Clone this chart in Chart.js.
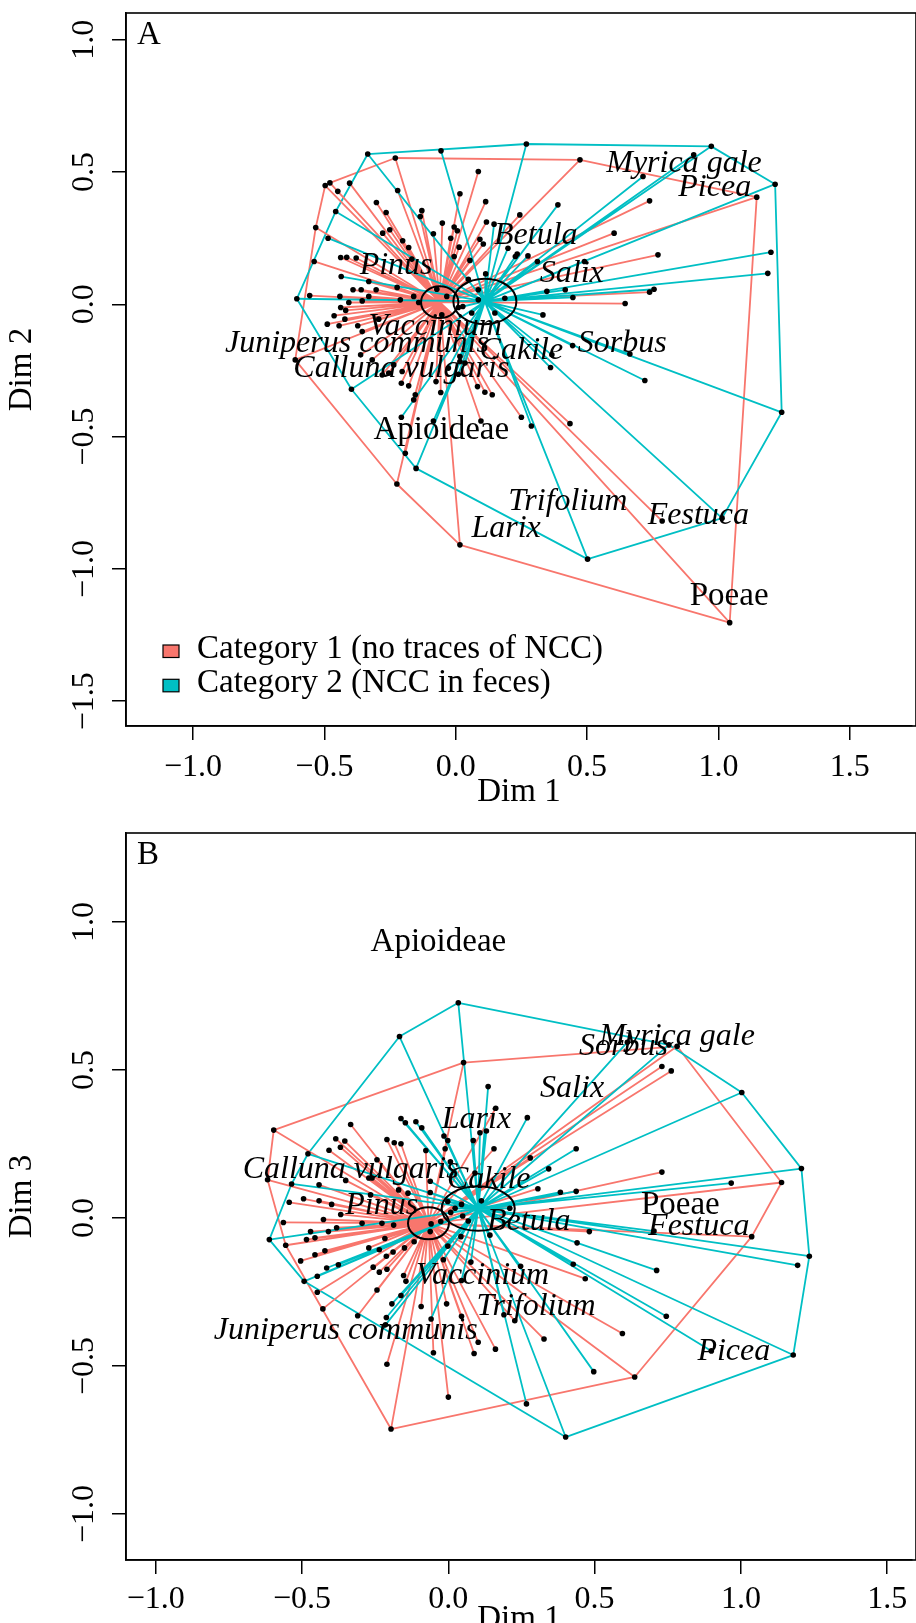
<!DOCTYPE html>
<html><head><meta charset="utf-8">
<script src="https://cdn.jsdelivr.net/npm/chart.js@4.4.1/dist/chart.umd.min.js"></script>
<style>
html,body{margin:0;padding:0;background:#fff;overflow:hidden;width:916px;height:1623px}
canvas{position:absolute;left:0}
#ca{top:0}
#cb{top:811px}
</style></head><body>
<canvas id="ca" width="916" height="811"></canvas>
<canvas id="cb" width="916" height="830"></canvas>
<script>
// ---------------- DATA ----------------
const categoryNames = ['Category 1 (no traces of NCC)', 'Category 2 (NCC in feces)'];
const categoryColors = ['#F8766D', '#00BFC4'];
const xTicks = [-1.0, -0.5, 0.0, 0.5, 1.0, 1.5];
const yTicksA = [-1.5, -1.0, -0.5, 0.0, 0.5, 1.0];
const yTicksB = [-1.0, -0.5, 0.0, 0.5, 1.0];

// Panel A (Dim 1 vs Dim 2)
const A_cat1 = [[-0.230,0.553],[0.086,0.502],[-0.497,0.449],[-0.479,0.459],[-0.404,0.458],[-0.449,0.427],[-0.221,0.430],[0.016,0.418],[0.114,0.388],[-0.302,0.385],[-0.129,0.354],[-0.135,0.332],[-0.265,0.347],[0.244,0.338],[-0.533,0.290],[-0.051,0.307],[-0.006,0.292],[0.006,0.278],[-0.278,0.269],[-0.251,0.282],[-0.085,0.267],[-0.019,0.250],[0.117,0.311],[0.092,0.246],[0.105,0.228],[0.013,0.216],[-0.202,0.240],[-0.179,0.215],[0.054,0.166],[-0.539,0.162],[-0.438,0.177],[-0.415,0.178],[-0.379,0.175],[-0.167,0.171],[-0.006,0.181],[0.048,0.095],[-0.331,0.086],[-0.223,0.064],[-0.303,0.055],[-0.391,0.055],[-0.360,0.055],[-0.441,0.030],[-0.331,0.030],[-0.356,0.013],[-0.160,0.030],[-0.141,0.007],[-0.556,0.033],[-0.407,0.007],[-0.211,0.017],[-0.419,-0.023],[-0.463,-0.043],[-0.489,-0.075],[-0.444,-0.081],[-0.422,-0.056],[-0.373,-0.081],[-0.293,-0.056],[-0.053,-0.040],[-0.072,0.057],[-0.034,0.030],[-0.438,-0.012],[-0.356,-0.103],[0.473,0.546],[1.146,0.405],[0.738,0.391],[0.603,0.269],[0.770,0.187],[0.738,0.046],[0.645,0.003],[0.435,-0.451],[0.786,-0.819],[1.043,-1.203],[-0.611,-0.210],[0.096,-0.441],[-0.192,-0.563],[-0.224,-0.679],[0.016,-0.909],[0.250,-0.427],[0.083,-0.311],[0.111,-0.332],[0.139,-0.342],[-0.057,-0.333],[-0.154,-0.342],[-0.160,-0.361],[-0.207,-0.298],[-0.179,-0.308],[-0.075,-0.292],[-0.318,-0.210],[-0.280,-0.267],[-0.255,-0.260],[-0.236,-0.229],[-0.204,-0.254],[-0.362,-0.191]];
const A_cat2 = [[-0.335,0.568],[-0.056,0.580],[0.269,0.606],[-0.457,0.351],[0.389,0.376],[-0.486,0.250],[0.146,0.303],[0.199,0.212],[0.234,0.190],[0.227,0.181],[0.275,0.183],[0.311,0.162],[0.114,0.115],[-0.436,0.105],[-0.605,0.021],[0.347,0.049],[0.417,0.055],[0.446,0.026],[0.010,-0.012],[0.061,-0.033],[0.149,-0.033],[0.332,-0.040],[0.086,0.017],[0.086,0.055],[0.187,0.023],[0.027,-0.008],[0.973,0.597],[0.906,0.565],[0.713,0.483],[1.216,0.454],[1.200,0.197],[1.188,0.117],[0.490,0.162],[0.755,0.057],[0.445,-0.156],[0.663,-0.188],[0.720,-0.288],[1.241,-0.408],[1.014,-0.808],[0.502,-0.963],[-0.397,-0.321],[-0.207,-0.427],[-0.085,-0.441],[-0.151,-0.620],[0.288,-0.460],[0.361,-0.239],[0.016,-0.197],[0.016,-0.216],[0.035,-0.222],[0.010,-0.264],[-0.028,-0.241],[0.366,-0.191]];
const A_centroids = [[-0.061,0.008],[0.111,0.011]];
const A_ellipses = [[-0.061,0.008,0.071,0.060],[0.111,0.011,0.120,0.086]]; // cx, cy, rx, ry
const A_labelText = ['Myrica gale','Picea','Betula','Pinus','Salix','Vaccinium','Juniperus communis','Cakile','Sorbus','Calluna vulgaris','Apioideae','Trifolium','Festuca','Larix','Poeae'];
const A_labelX = [0.869,0.986,0.305,-0.227,0.442,-0.078,-0.376,0.250,0.634,-0.207,-0.055,0.427,0.924,0.192,1.041];
const A_labelY = [0.532,0.442,0.258,0.145,0.117,-0.086,-0.149,-0.176,-0.149,-0.243,-0.477,-0.744,-0.798,-0.849,-1.104];
const A_labelItalic = [1,1,1,1,1,1,1,1,1,1,0,1,1,1,0];

// Panel B (Dim 1 vs Dim 3)
const B_cat1 = [[0.052,0.525],[-0.597,0.297],[0.162,0.371],[-0.334,0.316],[-0.002,0.262],[0.156,0.234],[-0.385,0.268],[-0.354,0.260],[-0.369,0.239],[-0.408,0.229],[-0.210,0.265],[-0.185,0.254],[-0.162,0.251],[-0.077,0.228],[-0.011,0.234],[-0.244,0.197],[-0.618,0.129],[-0.351,0.127],[-0.261,0.135],[-0.442,0.112],[0.782,0.580],[0.730,0.512],[0.762,0.497],[0.280,0.203],[0.730,0.155],[1.139,0.120],[0.306,0.099],[0.482,-0.046],[1.037,-0.063],[0.468,-0.205],[0.595,-0.390],[0.327,-0.409],[0.637,-0.537],[-0.556,-0.092],[-0.564,-0.015],[-0.544,0.053],[-0.495,0.065],[-0.442,0.058],[-0.399,0.046],[-0.368,0.012],[-0.427,-0.005],[-0.471,-0.046],[-0.485,-0.073],[-0.456,-0.067],[-0.410,-0.046],[-0.382,-0.033],[-0.505,-0.145],[-0.456,-0.124],[-0.422,-0.111],[-0.448,-0.251],[-0.429,-0.307],[-0.310,-0.330],[-0.257,-0.166],[-0.236,-0.183],[-0.210,-0.173],[-0.272,-0.101],[-0.236,-0.107],[-0.212,-0.129],[-0.189,-0.115],[-0.150,-0.101],[-0.217,-0.069],[-0.295,-0.018],[-0.227,-0.018],[-0.187,-0.024],[-0.244,-0.243],[-0.153,-0.194],[-0.145,-0.214],[-0.210,-0.494],[-0.196,-0.713],[-0.093,-0.299],[-0.051,-0.455],[0.000,-0.605],[-0.006,-0.290],[0.045,-0.332],[0.088,-0.458],[0.102,-0.420],[0.161,-0.443],[0.227,-0.347],[-0.117,-0.080],[-0.062,-0.046],[-0.059,-0.020],[-0.026,-0.012],[-0.170,0.095],[-0.266,0.078],[-0.272,0.135]];
const B_cat2 = [[0.034,0.727],[-0.167,0.613],[0.136,0.444],[0.270,0.339],[-0.162,0.336],[-0.147,0.322],[-0.111,0.325],[-0.091,0.305],[-0.015,0.277],[0.085,0.262],[0.108,0.288],[0.130,0.294],[-0.480,0.217],[0.007,0.190],[-0.536,0.115],[-0.062,0.124],[0.091,0.152],[0.754,0.585],[0.612,0.594],[1.003,0.424],[0.437,0.234],[0.343,0.166],[1.207,0.167],[0.967,0.118],[0.383,0.087],[0.437,0.090],[0.703,-0.044],[0.440,-0.084],[1.234,-0.129],[1.194,-0.160],[0.712,-0.177],[0.427,-0.156],[0.247,-0.163],[0.745,-0.332],[0.497,-0.519],[1.179,-0.463],[0.899,-0.449],[0.267,-0.628],[0.401,-0.740],[-0.612,-0.073],[-0.416,-0.169],[-0.376,-0.158],[-0.448,-0.197],[-0.493,-0.214],[-0.162,-0.262],[-0.193,-0.290],[-0.212,-0.336],[-0.215,-0.361],[-0.059,-0.341],[0.190,-0.327],[0.077,-0.149],[0.045,-0.211],[-0.017,-0.141],[-0.002,-0.095],[0.043,-0.063],[0.142,-0.058],[0.113,0.058],[0.210,0.033],[-0.062,0.086],[-0.138,0.084],[-0.002,0.056],[0.023,0.033],[0.045,0.046],[0.068,-0.010],[0.008,0.019],[0.049,0.007]];
const B_centroids = [[-0.068,-0.018],[0.102,0.032]];
const B_ellipses = [[-0.068,-0.018,0.070,0.054],[0.102,0.032,0.125,0.075]];
const B_labelText = ['Apioideae','Myrica gale','Sorbus','Salix','Larix','Calluna vulgaris','Cakile','Poeae','Festuca','Pinus','Betula','Vaccinium','Trifolium','Juniperus communis','Picea'];
const B_labelX = [-0.034,0.782,0.599,0.423,0.096,-0.334,0.138,0.793,0.856,-0.228,0.275,0.117,0.300,-0.351,0.976];
const B_labelY = [0.932,0.612,0.580,0.436,0.334,0.165,0.129,0.042,-0.029,0.042,-0.011,-0.194,-0.300,-0.381,-0.451];
const B_labelItalic = [0,1,1,1,1,1,1,0,1,1,1,1,1,1,1];

// ---------------- HELPERS ----------------
const FONT = '"Liberation Serif", "Times New Roman", serif';
function convexHull(pts) {
  const p = pts.map(a => a.slice()).sort((a, b) => a[0] - b[0] || a[1] - b[1]);
  const cross = (o, a, b) => (a[0]-o[0])*(b[1]-o[1]) - (a[1]-o[1])*(b[0]-o[0]);
  const lower = [], upper = [];
  for (const q of p) { while (lower.length >= 2 && cross(lower[lower.length-2], lower[lower.length-1], q) <= 0) lower.pop(); lower.push(q); }
  for (let i = p.length - 1; i >= 0; i--) { const q = p[i]; while (upper.length >= 2 && cross(upper[upper.length-2], upper[upper.length-1], q) <= 0) upper.pop(); upper.push(q); }
  upper.pop(); lower.pop();
  const h = lower.concat(upper); h.push(h[0]);
  return h.map(a => ({x: a[0], y: a[1]}));
}
function spider(c, pts) {
  const out = [];
  for (const q of pts) { out.push({x: c[0], y: c[1]}, {x: q[0], y: q[1]}, {x: null, y: null}); }
  return out;
}
const fmt = v => (v < 0 ? '\u2212' : '') + Math.abs(v).toFixed(1);

const decor = {
  id: 'decor',
  afterDatasetsDraw(chart, args, o) {
    const ctx = chart.ctx, xs = chart.scales.x, ys = chart.scales.y, ca = chart.chartArea;
    ctx.save();
    ctx.beginPath(); ctx.rect(ca.left, ca.top, ca.right - ca.left, ca.bottom - ca.top); ctx.clip();
    // ellipses
    ctx.strokeStyle = '#000'; ctx.lineWidth = 2;
    for (const e of o.ellipses) {
      const cx = xs.getPixelForValue(e[0]), cy = ys.getPixelForValue(e[1]);
      const rx = Math.abs(xs.getPixelForValue(e[0] + e[2]) - cx), ry = Math.abs(ys.getPixelForValue(e[1] + e[3]) - cy);
      ctx.beginPath(); ctx.ellipse(cx, cy, rx, ry, 0, 0, Math.PI * 2); ctx.stroke();
    }
    // labels
    ctx.fillStyle = '#000'; ctx.textAlign = 'center'; ctx.textBaseline = 'middle';
    o.labels.text.forEach((t, i) => {
      ctx.font = o.labels.italic[i] ? 'italic 32px ' + FONT : '33px ' + FONT;
      ctx.fillText(t, xs.getPixelForValue(o.labels.x[i]), ys.getPixelForValue(o.labels.y[i]));
    });
    ctx.restore();
    ctx.save();
    // box
    ctx.strokeStyle = '#000'; ctx.lineWidth = 1.6;
    ctx.strokeRect(ca.left, ca.top, ca.right - ca.left + 4, ca.bottom - ca.top);
    // panel letter
    ctx.fillStyle = '#000'; ctx.font = '33px ' + FONT; ctx.textAlign = 'left'; ctx.textBaseline = 'middle';
    ctx.fillText(o.letter, ca.left + 11, ca.top + 22);
    // y tick labels (rotated as in R)
    ctx.font = '32px ' + FONT; ctx.textAlign = 'center'; ctx.textBaseline = 'middle';
    for (const t of ys.ticks) {
      const y = ys.getPixelForValue(t.value);
      ctx.save(); ctx.translate(85, y); ctx.rotate(-Math.PI / 2); ctx.fillText(fmt(t.value), 0, 0); ctx.restore();
    }
    // legend
    if (o.legend) {
      ctx.font = '33px ' + FONT;
      categoryNames.forEach((n, i) => {
        const top = ca.top + 632 + i * 34.3;
        ctx.fillStyle = categoryColors[i]; ctx.fillRect(ca.left + 37, top, 16, 12.5);
        ctx.strokeStyle = '#000'; ctx.lineWidth = 1.2; ctx.strokeRect(ca.left + 37, top, 16, 12.5);
        ctx.fillStyle = '#000'; ctx.textAlign = 'left'; ctx.textBaseline = 'alphabetic';
        ctx.fillText(n, ca.left + 71, top + 12.5);
      });
    }
    ctx.restore();
  }
};

function makeChart(id, cfg) {
  const datasets = [
    {data: cfg.cat1.concat(cfg.cat2).map(a => ({x: a[0], y: a[1]})), showLine: false, pointRadius: 2.8, pointBackgroundColor: '#000', pointBorderWidth: 0, order: 0},
    {data: spider(cfg.centroids[1], cfg.cat2), showLine: true, borderColor: categoryColors[1], borderWidth: 1.8, pointRadius: 0, order: 1},
    {data: spider(cfg.centroids[0], cfg.cat1), showLine: true, borderColor: categoryColors[0], borderWidth: 1.8, pointRadius: 0, order: 2},
    {data: convexHull(cfg.cat2), showLine: true, borderColor: categoryColors[1], borderWidth: 1.8, pointRadius: 0, order: 3},
    {data: convexHull(cfg.cat1), showLine: true, borderColor: categoryColors[0], borderWidth: 1.8, pointRadius: 0, order: 4}
  ];
  return new Chart(document.getElementById(id), {
    type: 'scatter',
    data: {datasets},
    plugins: [decor],
    options: {
      responsive: false, animation: false, devicePixelRatio: 1,
      layout: {padding: {top: cfg.top, left: 0, right: 0, bottom: 0}},
      plugins: {legend: {display: false}, tooltip: {enabled: false}, decor: cfg.decor},
      elements: {line: {tension: 0, borderJoinStyle: 'round'}},
      scales: {
        x: {
          type: 'linear', min: cfg.xmin, max: cfg.xmax,
          afterBuildTicks: a => { a.ticks = xTicks.map(v => ({value: v})); },
          afterFit: a => { a.height = cfg.xAxisH; },
          grid: {display: true, drawOnChartArea: false, drawTicks: true, tickLength: 14, color: '#000', lineWidth: 1.5},
          border: {display: true, color: '#000', width: 1.6},
          ticks: {color: '#000', font: {family: FONT, size: 32}, padding: cfg.tickPad, maxRotation: 0, autoSkip: false, callback: v => fmt(v)},
          title: {display: true, text: 'Dim 1', color: '#000', font: {family: FONT, size: 33, lineHeight: 1}, padding: {top: 0, bottom: cfg.titlePad}}
        },
        y: {
          type: 'linear', min: cfg.ymin, max: cfg.ymax,
          afterBuildTicks: a => { a.ticks = cfg.yTicks.map(v => ({value: v})); },
          afterFit: a => { a.width = 126; },
          grid: {display: true, drawOnChartArea: false, drawTicks: true, tickLength: 14, color: '#000', lineWidth: 1.5},
          border: {display: true, color: '#000', width: 1.6},
          ticks: {display: false},
          title: {display: true, text: cfg.yTitle, color: '#000', font: {family: FONT, size: 33, lineHeight: 1}, padding: {top: 6, bottom: 0}}
        }
      }
    }
  });
}

makeChart('ca', {
  cat1: A_cat1, cat2: A_cat2, centroids: A_centroids, top: 13, xAxisH: 85, tickPad: 8, titlePad: 2,
  xmin: -1.2553, xmax: 1.7371, ymin: -1.5936, ymax: 1.1010, yTicks: yTicksA, yTitle: 'Dim 2',
  decor: {ellipses: A_ellipses, letter: 'A', legend: true,
    labels: {text: A_labelText, x: A_labelX, y: A_labelY, italic: A_labelItalic}}
});
makeChart('cb', {
  cat1: B_cat1, cat2: B_cat2, centroids: B_centroids, top: 22, xAxisH: 81, tickPad: 6, titlePad: 5,
  xmin: -1.102, xmax: 1.585, ymin: -1.1554, ymax: 1.3007, yTicks: yTicksB, yTitle: 'Dim 3',
  decor: {ellipses: B_ellipses, letter: 'B', legend: false,
    labels: {text: B_labelText, x: B_labelX, y: B_labelY, italic: B_labelItalic}}
});
</script>
</body></html>
